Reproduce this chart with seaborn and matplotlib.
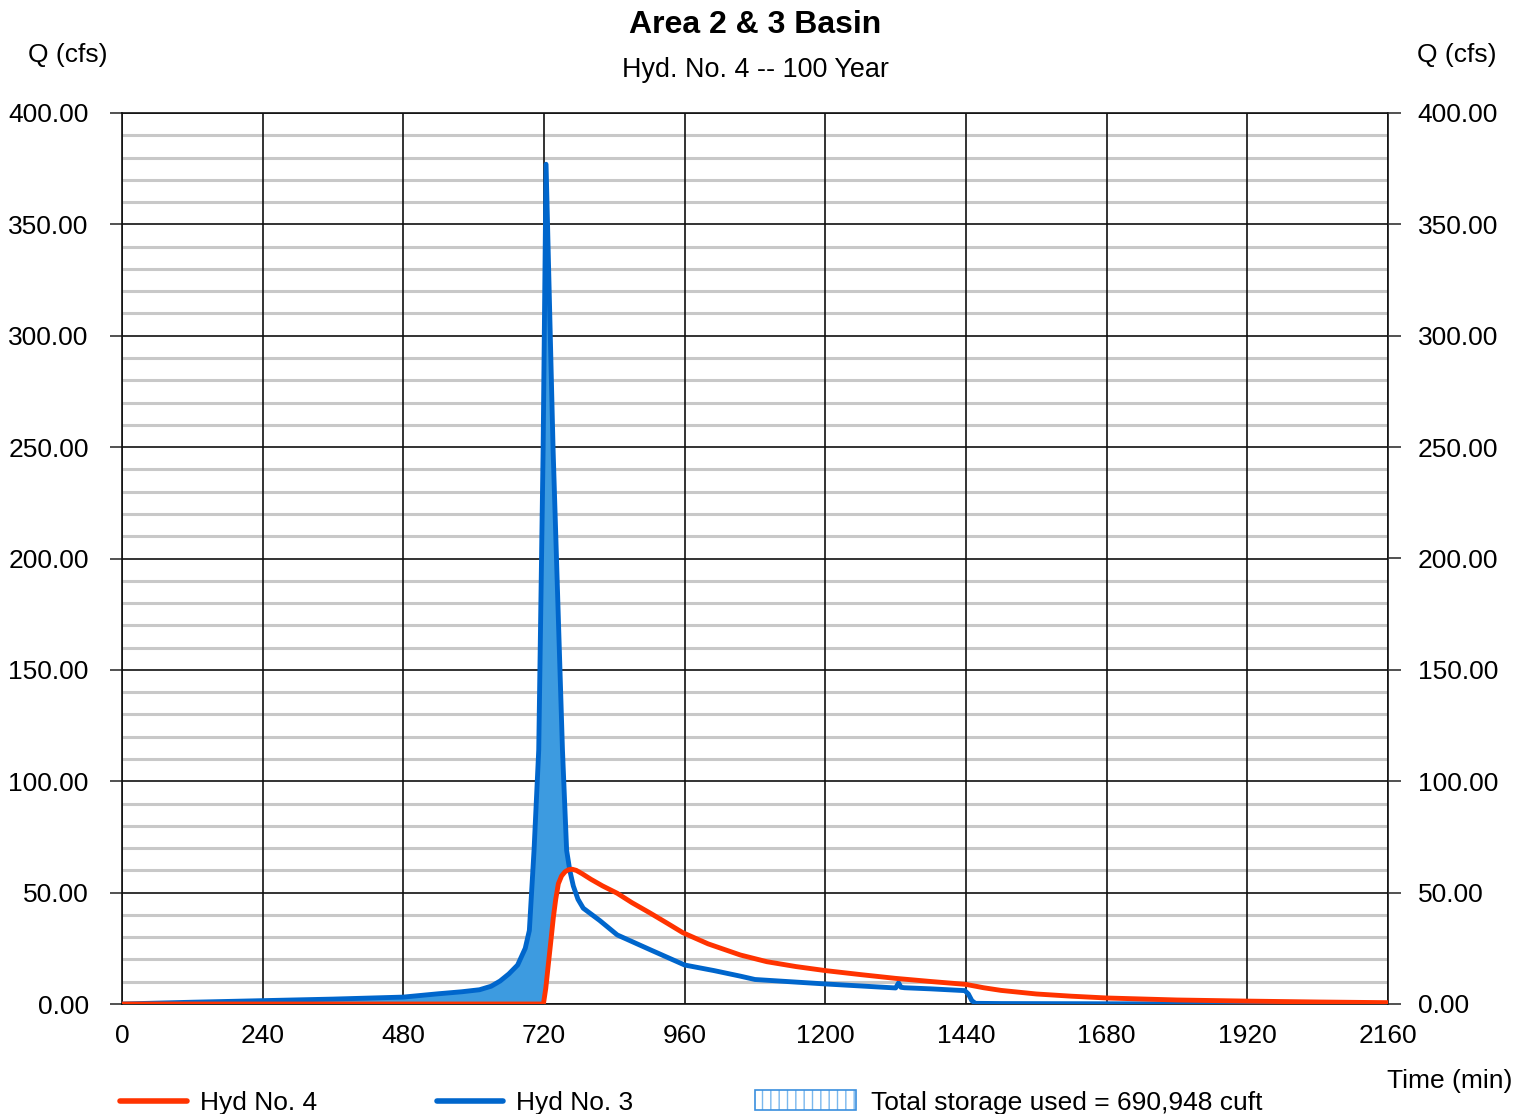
import numpy as np
import pandas as pd
import matplotlib
matplotlib.use("Agg")
import matplotlib.pyplot as plt
from matplotlib.ticker import MultipleLocator, FuncFormatter
from matplotlib.lines import Line2D
from matplotlib.patches import Rectangle
import seaborn as sns

# ---- data ----
t_inflow = [0, 120, 240, 360, 480, 540, 580, 610, 630, 645, 660, 675, 688, 695, 703, 711, 718.5, 723.5,
            735.5, 751.5, 758.6, 764, 770, 778, 787, 815, 845, 900, 960, 1010, 1055, 1080, 1200,
            1320, 1325, 1329, 1335, 1380, 1438, 1444, 1450, 1456, 1500, 1700, 1900, 2160]
q_inflow = [0, 0.8, 1.5, 2.2, 3.1, 4.6, 5.5, 6.4, 8.0, 10.3, 13.5, 17.5, 25, 33, 69, 114, 249, 377,
            249, 114, 69, 60, 53, 47, 43, 37.5, 31, 24.5, 17.5, 15, 12.5, 11, 9,
            7.2, 9.5, 7.5, 7.3, 6.8, 6.0, 4.5, 1.5, 0.3, 0.2, 0.1, 0.1, 0.1]

t_outflow = [0, 719, 723, 727, 732, 736, 740, 744.5, 750, 756, 762, 768, 775, 785, 800, 820, 845,
             870, 900, 930, 957, 1000, 1055, 1100, 1150, 1200, 1260, 1320, 1380, 1440, 1470,
             1500, 1560, 1620, 1680, 1800, 1920, 2040, 2160]
q_outflow = [0, 0, 7, 16.8, 29, 39, 47, 54, 57.5, 59.4, 60.3, 60.5, 60, 58.5, 56, 53, 49.7,
             45.5, 41, 36.3, 32, 27, 22, 19, 16.8, 15, 13.2, 11.5, 10.1, 8.8, 7.3,
             6.1, 4.5, 3.5, 2.7, 1.8, 1.3, 0.9, 0.6]

x_ticks = [0, 240, 480, 720, 960, 1200, 1440, 1680, 1920, 2160]
y_ticks = [0, 50, 100, 150, 200, 250, 300, 350, 400]

title = "Area 2 & 3 Basin"
subtitle = "Hyd. No. 4 -- 100 Year"
label_out = "Hyd No. 4"
label_in = "Hyd No. 3"
label_storage = "Total storage used = 690,948 cuft"

RED = "#ff3300"
BLUE = "#0066cc"
FILL = "#3d9be0"

sns.set_theme(style="white")
plt.rcParams['font.family'] = ['Liberation Sans', 'DejaVu Sans']
plt.rcParams['text.color'] = 'black'

FS = 19

W, H = 1531, 1114
fig = plt.figure(figsize=(W / 100, H / 100), dpi=100)
ax = fig.add_axes([122 / W, 1 - 1004 / H, 1266 / W, 891 / H])

df_in = pd.DataFrame({"t": t_inflow, "q": q_inflow})
df_out = pd.DataFrame({"t": t_outflow, "q": q_outflow})

# fill where inflow exceeds outflow
tg = np.union1d(np.linspace(0, 2160, 4321), np.array(t_inflow + t_outflow, dtype=float))
qi = np.interp(tg, t_inflow, q_inflow)
qo = np.interp(tg, t_outflow, q_outflow)
ax.fill_between(tg, qo, qi, where=qi >= qo, interpolate=True, color=FILL, lw=0, zorder=2)

sns.lineplot(data=df_in, x="t", y="q", ax=ax, color=BLUE, lw=3.5, zorder=3, estimator=None, sort=False)
sns.lineplot(data=df_out, x="t", y="q", ax=ax, color=RED, lw=3.5, zorder=4, estimator=None, sort=False)
for ln in ax.lines:
    ln.set_solid_joinstyle('round')

ax.set_xlim(0, 2160)
ax.set_ylim(0, 400)
ax.set_xticks(x_ticks)
ax.set_yticks(y_ticks)
ax.yaxis.set_minor_locator(MultipleLocator(10))
ax.yaxis.set_major_formatter(FuncFormatter(lambda v, p: f"{v:.2f}"))
ax.set_xlabel("")
ax.set_ylabel("")

# minor grid (gray) below, major grid (black) above it but below the data
ax.grid(which='minor', axis='y', color='#c8c8c8', lw=2.2)
ax.grid(which='major', visible=False)
ax.set_axisbelow(True)
ax.vlines(x_ticks, 0, 400, colors='#111111', lw=1.2, zorder=1)
ax.hlines(y_ticks, 0, 2160, colors='#111111', lw=1.2, zorder=1)
for s in ax.spines.values():
    s.set_color('#111111')
    s.set_linewidth(1.2)

ax.tick_params(axis='y', which='major', left=True, length=9, width=1.2, color='#333333',
               pad=15, labelsize=FS, labelcolor='black')
ax.tick_params(axis='y', which='minor', length=0)
ax.tick_params(axis='x', which='major', bottom=True, length=0, pad=14.5, labelsize=FS, labelcolor='black')

ax2 = ax.twinx()
ax2.set_ylim(0, 400)
ax2.set_yticks(y_ticks)
ax2.yaxis.set_major_formatter(FuncFormatter(lambda v, p: f"{v:.2f}"))
ax2.tick_params(axis='y', right=True, length=9, width=1.2, color='#333333', pad=12.5,
                labelsize=FS, labelcolor='black')
ax2.grid(False)
for s in ax2.spines.values():
    s.set_visible(False)

# texts
fig.text(755 / W, 1 - 25 / H, title, ha='center', va='center', fontsize=23, fontweight='bold')
fig.text(755 / W, 1 - 70 / H, subtitle, ha='center', va='center', fontsize=19.4)
fig.text(68 / W, 1 - 55 / H, "Q (cfs)", ha='center', va='center', fontsize=FS)
fig.text(1457 / W, 1 - 55 / H, "Q (cfs)", ha='center', va='center', fontsize=FS)
fig.text(1450 / W, 1 - 1081 / H, "Time (min)", ha='center', va='center', fontsize=FS)

# legend
ly = 1 - 1103 / H
lly = 1 - 1101 / H
fig.add_artist(Line2D([120 / W, 187 / W], [lly, lly], color=RED, lw=4, solid_capstyle='round'))
fig.text(200 / W, ly, label_out, ha='left', va='center', fontsize=FS)
fig.add_artist(Line2D([437 / W, 503 / W], [lly, lly], color=BLUE, lw=4, solid_capstyle='round'))
fig.text(516 / W, ly, label_in, ha='left', va='center', fontsize=FS)
fig.add_artist(Rectangle((755 / W, 1 - 1110 / H), 101 / W, 20 / H, transform=fig.transFigure,
                         facecolor='white', edgecolor='#7ab8ee', hatch='||', lw=0))
fig.add_artist(Rectangle((755 / W, 1 - 1110 / H), 101 / W, 20 / H, transform=fig.transFigure,
                         facecolor='none', edgecolor='#3a8fde', lw=1.2))
fig.text(871 / W, ly, label_storage, ha='left', va='center', fontsize=FS)

fig.savefig("out.png", dpi=100)
